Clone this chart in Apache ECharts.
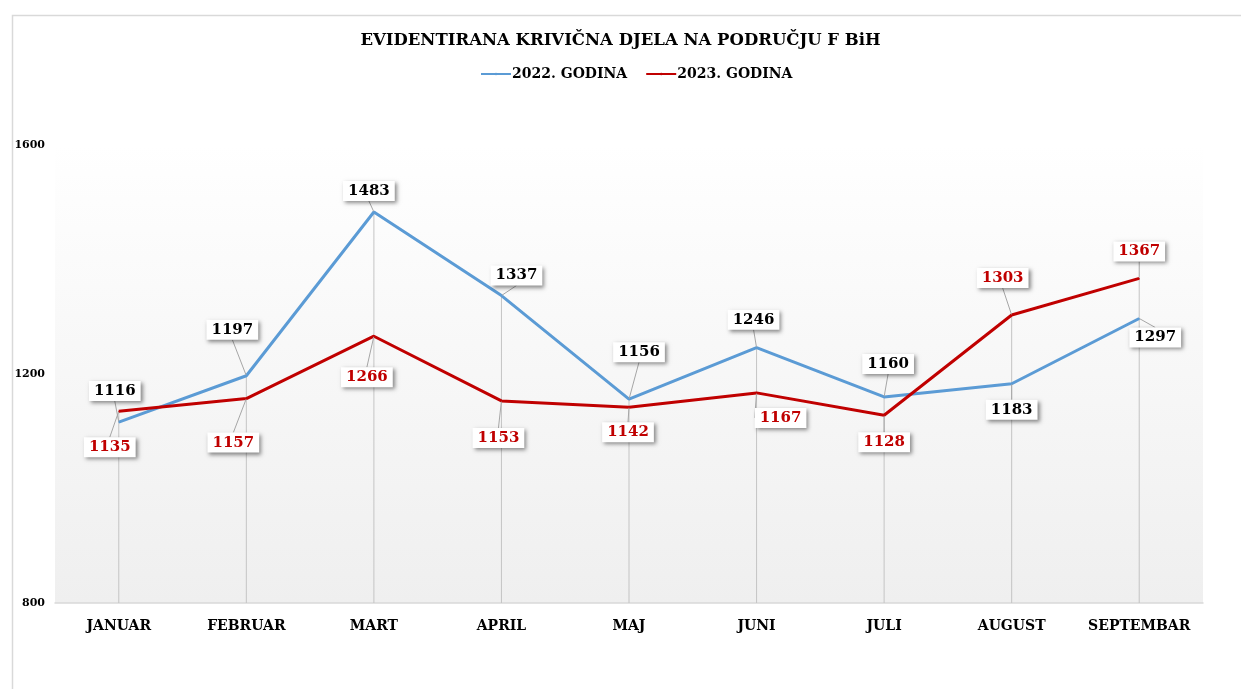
<!DOCTYPE html>
<html>
<head>
<meta charset="utf-8">
<script src="https://cdn.jsdelivr.net/npm/echarts@6/dist/echarts.min.js"></script>
<style>
    html, body { margin: 0; padding: 0; background: #fff; }
    #chart1 { width: 1241px; height: 689px; }
</style>
</head>
<body>
<div id="chart1"></div>
<script>
const mjeseci = ['JANUAR', 'FEBRUAR', 'MART', 'APRIL', 'MAJ', 'JUNI', 'JULI', 'AUGUST', 'SEPTEMBAR'];
const godina2022 = [1116, 1197, 1483, 1337, 1156, 1246, 1160, 1183, 1297];
const godina2023 = [1135, 1157, 1266, 1153, 1142, 1167, 1128, 1303, 1367];
const yTicks = [800, 1200, 1600];

// pomak oznaka od tacke (px)
const pomak2022 = [[-4, -31], [-14, -46], [-5, -21], [15, -20], [10, -47], [-3, -28], [4, -33], [0, 26], [16, 19]];
const pomak2023 = [[-9, 36], [-13, 44], [-7, 41], [-3, 37], [-1, 25], [24, 25], [0, 27], [-9, -37], [0, -27]];

const font = "'DejaVu Serif', serif";

const labelBox = (color) => {
    return {
        show: true,
        position: 'inside',
        color: color,
        fontFamily: font,
        fontWeight: 'bold',
        fontSize: 15,
        backgroundColor: '#fff',
        padding: [3, 5, 2, 5],
        shadowColor: 'rgba(0,0,0,0.45)',
        shadowBlur: 4,
        shadowOffsetX: 2,
        shadowOffsetY: 2
    };
};

const getOptionChart1 = () => {
    return {
        backgroundColor: '#fff',
        animation: false,
        graphic: [
            {
                type: 'rect',
                left: 10,
                top: 13,
                shape: { width: 1300, height: 700 },
                style: { fill: 'none', stroke: '#d9d9d9', lineWidth: 1.5 },
                silent: true
            }
        ],
        title: {
            text: 'EVIDENTIRANA KRIVIČNA DJELA NA PODRUČJU F BiH',
            left: 'center',
            top: 27,
            textStyle: {
                color: '#000',
                fontFamily: font,
                fontWeight: 'bold',
                fontSize: 16.5
            }
        },
        legend: {
            top: 62,
            left: 475,
            itemGap: 18,
            itemWidth: 30,
            itemHeight: 3,
            data: ['2022. GODINA', '2023. GODINA'],
            textStyle: {
                color: '#000',
                fontFamily: font,
                fontWeight: 'bold',
                fontSize: 14,
                padding: [0, 0, 0, -4]
            }
        },
        grid: {
            left: 55,
            right: 38,
            top: 145,
            bottom: 86,
            show: true,
            borderWidth: 0,
            backgroundColor: new echarts.graphic.LinearGradient(0, 0, 0, 1, [
                { offset: 0, color: '#ffffff' },
                { offset: 0.12, color: '#fdfdfd' },
                { offset: 1, color: '#efefef' }
            ])
        },
        xAxis: {
            type: 'category',
            data: mjeseci,
            axisLine: { lineStyle: { color: '#d9d9d9', width: 1.5 } },
            axisTick: { show: false },
            axisLabel: {
                interval: 0,
                color: '#000',
                fontFamily: font,
                fontWeight: 'bold',
                fontSize: 14,
                margin: 16
            }
        },
        yAxis: {
            type: 'value',
            min: yTicks[0],
            max: yTicks[yTicks.length - 1],
            interval: yTicks[1] - yTicks[0],
            splitLine: { show: false },
            axisLine: { show: false },
            axisTick: { show: false },
            axisLabel: {
                formatter: (v) => String(v),
                color: '#000',
                fontFamily: font,
                fontWeight: 'bold',
                fontSize: 11,
                margin: 10
            }
        },
        series: [
            {
                // okomite linije do ose
                type: 'bar',
                silent: true,
                barWidth: 1,
                itemStyle: { color: '#c4c4c4' },
                data: godina2022.map((v, i) => Math.max(v, godina2023[i]))
            },
            {
                name: '2022. GODINA',
                type: 'line',
                data: godina2022,
                color: '#5b9bd5',
                symbol: 'circle',
                symbolSize: 1,
                lineStyle: { width: 3, color: '#5b9bd5' },
                label: labelBox('#000'),
                labelLine: { show: true, lineStyle: { color: '#a6a6a6', width: 1 } },
                labelLayout: (p) => ({ dx: pomak2022[p.dataIndex][0], dy: pomak2022[p.dataIndex][1] })
            },
            {
                name: '2023. GODINA',
                type: 'line',
                data: godina2023,
                color: '#c00000',
                symbol: 'circle',
                symbolSize: 1,
                lineStyle: { width: 3, color: '#c00000' },
                label: labelBox('#c00000'),
                labelLine: { show: true, lineStyle: { color: '#a6a6a6', width: 1 } },
                labelLayout: (p) => ({ dx: pomak2023[p.dataIndex][0], dy: pomak2023[p.dataIndex][1] })
            }
        ]
    };
};

const initCharts = () => {
    const chart1 = echarts.init(document.getElementById('chart1'));
    chart1.setOption(getOptionChart1());
};

window.addEventListener('load', () => {
    initCharts();
});
</script>
</body>
</html>
